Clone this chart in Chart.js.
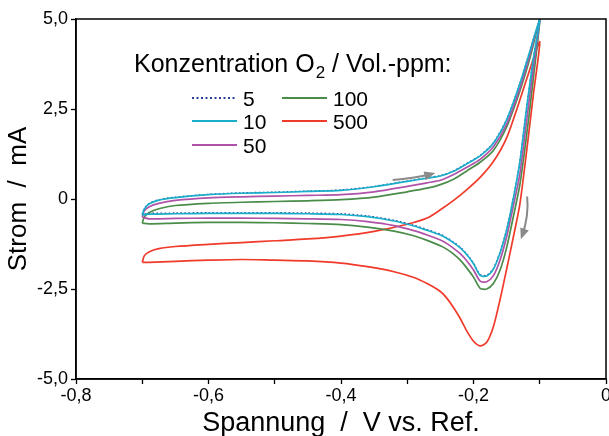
<!DOCTYPE html>
<html>
<head>
<meta charset="utf-8">
<script src="https://cdn.jsdelivr.net/npm/chart.js@4.4.1/dist/chart.umd.min.js"></script>
<style>
  html, body { margin: 0; padding: 0; background: #fff; }
  canvas { display: block; }
</style>
</head>
<body>
<canvas id="cv" width="609" height="436"></canvas>
<script>
// Spannung (V vs. Ref.): Hinlauf -0,7 -> -0,1, dann Rücklauf -0,1 -> -0,7
const spannung = [
  -0.700, -0.697, -0.690, -0.675, -0.650, -0.600, -0.550, -0.500, -0.450, -0.400, -0.350,
  -0.300, -0.270, -0.250, -0.230, -0.210, -0.190, -0.170, -0.150, -0.130, -0.115, -0.100,
  -0.110, -0.120, -0.130, -0.140, -0.150, -0.160, -0.170, -0.180, -0.190, -0.200,
  -0.210, -0.220, -0.230, -0.240, -0.250, -0.270, -0.290, -0.320, -0.360, -0.400,
  -0.450, -0.500, -0.550, -0.600, -0.650, -0.690, -0.700
];

// Strom (mA) je O2-Konzentration
const strom5 = [
  -0.43, -0.27, -0.13, -0.02, 0.05, 0.13, 0.17, 0.19, 0.22, 0.25, 0.35,
  0.50, 0.59, 0.65, 0.78, 0.99, 1.21, 1.56, 2.21, 3.21, 4.11, 5.00,
  3.86, 2.51, 1.05, 0.02, -0.85, -1.48, -1.93, -2.12, -2.10, -1.78,
  -1.53, -1.34, -1.20, -1.08, -0.98, -0.85, -0.73, -0.59, -0.47, -0.41,
  -0.39, -0.38, -0.38, -0.38, -0.39, -0.40, -0.43
];
const strom10 = [
  -0.44, -0.28, -0.14, -0.03, 0.04, 0.12, 0.16, 0.18, 0.21, 0.24, 0.34,
  0.49, 0.58, 0.64, 0.77, 0.98, 1.20, 1.55, 2.20, 3.20, 4.10, 5.00,
  3.85, 2.50, 1.03, 0.00, -0.87, -1.50, -1.95, -2.14, -2.12, -1.80,
  -1.55, -1.36, -1.22, -1.10, -1.00, -0.87, -0.75, -0.61, -0.49, -0.43,
  -0.41, -0.40, -0.40, -0.40, -0.41, -0.42, -0.44
];
const strom50 = [
  -0.50, -0.33, -0.22, -0.12, -0.04, 0.03, 0.06, 0.08, 0.10, 0.12, 0.20,
  0.35, 0.45, 0.52, 0.68, 0.88, 1.10, 1.45, 2.08, 3.08, 4.00, 5.00,
  3.60, 2.15, 0.70, -0.20, -1.05, -1.70, -2.13, -2.30, -2.28, -1.97,
  -1.72, -1.52, -1.37, -1.24, -1.14, -1.00, -0.88, -0.74, -0.63, -0.57,
  -0.55, -0.54, -0.53, -0.53, -0.54, -0.55, -0.50
];
const strom100 = [
  -0.67, -0.50, -0.38, -0.27, -0.18, -0.12, -0.09, -0.07, -0.05, -0.02, 0.05,
  0.20, 0.30, 0.40, 0.55, 0.78, 1.02, 1.35, 2.00, 3.00, 3.90, 5.00,
  3.30, 1.75, 0.40, -0.50, -1.35, -1.98, -2.35, -2.50, -2.48, -2.17,
  -1.92, -1.70, -1.53, -1.40, -1.30, -1.15, -1.02, -0.89, -0.78, -0.71,
  -0.68, -0.66, -0.65, -0.65, -0.67, -0.69, -0.67
];
const strom500 = [
  -1.76, -1.58, -1.47, -1.38, -1.32, -1.26, -1.21, -1.16, -1.11, -1.03, -0.90,
  -0.70, -0.53, -0.30, -0.04, 0.26, 0.60, 1.04, 1.70, 2.75, 3.60, 4.37,
  2.85, 1.30, -0.14, -1.07, -1.95, -2.80, -3.55, -3.98, -4.08, -3.95,
  -3.67, -3.32, -3.02, -2.76, -2.57, -2.35, -2.18, -2.02, -1.88, -1.78,
  -1.72, -1.70, -1.68, -1.70, -1.73, -1.76, -1.76
];

const konzentrationen = ['5', '10', '50', '100', '500'];
const farben = ['#2b3f9a', '#1aaecb', '#b052a8', '#4a8c4a', '#f03a2a'];

const xTicks = [-0.8, -0.7, -0.6, -0.5, -0.4, -0.3, -0.2, -0.1, 0];
const xTickLabels = ['-0,8', '', '-0,6', '', '-0,4', '', '-0,2', '', '0'];
const yTicks = [-5, -2.5, 0, 2.5, 5];
const yTickLabels = ['-5,0', '-2,5', '0', '2,5', '5,0'];

// Pfeile für die Scanrichtung (Start, Kontrollpunkt, Ende in Datenkoordinaten)
const pfeile = [
  [[-0.322, 0.53], [-0.292, 0.56], [-0.262, 0.70]],
  [[-0.119, 0.07], [-0.116, -0.47], [-0.127, -1.04]]
];

const FONT = 'Liberation Sans, Arial, Helvetica, sans-serif';

function punkte(strom) {
  return spannung.map((v, i) => ({ x: v, y: strom[i] }));
}

const alleStroeme = [strom5, strom10, strom50, strom100, strom500];
// Zeichenreihenfolge: 10 ganz oben, die gepunktete 5 knapp darunter
const reihenfolge = [1, 0, 2, 3, 4];
const datasets = alleStroeme.map((s, i) => ({
  label: konzentrationen[i],
  data: punkte(s),
  showLine: true,
  borderColor: farben[i],
  borderWidth: i === 0 ? 1.4 : 1.7,
  borderDash: i === 0 ? [1.6, 2.4] : [],
  pointRadius: 0,
  fill: false,
  tension: 0.25,
  order: reihenfolge[i]
}));

const rahmen = {
  id: 'rahmen',
  afterDraw(chart) {
    const { ctx, chartArea: a } = chart;
    ctx.save();
    ctx.strokeStyle = '#000';
    ctx.lineWidth = 1.5;
    ctx.strokeRect(a.left, a.top, a.right - a.left, a.bottom - a.top);
    ctx.restore();
  }
};

const richtungsPfeile = {
  id: 'richtungsPfeile',
  afterDatasetsDraw(chart) {
    const { ctx, scales: { x, y } } = chart;
    ctx.save();
    ctx.strokeStyle = '#8a8a8a';
    ctx.fillStyle = '#8a8a8a';
    ctx.lineWidth = 2;
    pfeile.forEach(p => {
      const [p0, p1, p2] = p.map(q => [x.getPixelForValue(q[0]), y.getPixelForValue(q[1])]);
      ctx.beginPath();
      ctx.moveTo(p0[0], p0[1]);
      ctx.quadraticCurveTo(p1[0], p1[1], p2[0], p2[1]);
      ctx.stroke();
      const ang = Math.atan2(p2[1] - p1[1], p2[0] - p1[0]);
      ctx.beginPath();
      ctx.moveTo(p2[0] + 3 * Math.cos(ang), p2[1] + 3 * Math.sin(ang));
      ctx.lineTo(p2[0] - 8 * Math.cos(ang) - 4.5 * Math.sin(ang), p2[1] - 8 * Math.sin(ang) + 4.5 * Math.cos(ang));
      ctx.lineTo(p2[0] - 8 * Math.cos(ang) + 4.5 * Math.sin(ang), p2[1] - 8 * Math.sin(ang) - 4.5 * Math.cos(ang));
      ctx.closePath();
      ctx.fill();
    });
    ctx.restore();
  }
};

const legende = {
  id: 'legende',
  afterDraw(chart) {
    const ctx = chart.ctx;
    ctx.save();
    ctx.fillStyle = '#000';
    ctx.textBaseline = 'alphabetic';
    ctx.font = '25px ' + FONT;
    let x = 134;
    const yb = 72;
    ctx.fillText('Konzentration O', x, yb);
    x += ctx.measureText('Konzentration O').width;
    ctx.font = '17px ' + FONT;
    ctx.fillText('2', x + 1, yb + 6);
    x += ctx.measureText('2').width + 1;
    ctx.font = '25px ' + FONT;
    ctx.fillText(' / Vol.-ppm:', x, yb);

    const spalten = [[0, 1, 2], [3, 4]];
    const lx = [192, 282];
    const rows = [98, 121, 145];
    ctx.font = '21px ' + FONT;
    spalten.forEach((sp, c) => {
      sp.forEach((idx, r) => {
        const ds = chart.data.datasets[idx];
        ctx.beginPath();
        ctx.setLineDash(idx === 0 ? [2, 2.5] : []);
        ctx.strokeStyle = ds.borderColor;
        ctx.lineWidth = 2;
        ctx.moveTo(lx[c], rows[r]);
        ctx.lineTo(lx[c] + 45, rows[r]);
        ctx.stroke();
        ctx.setLineDash([]);
        ctx.fillText(ds.label, lx[c] + 51, rows[r] + 7.5);
      });
    });
    ctx.restore();
  }
};

new Chart(document.getElementById('cv'), {
  type: 'scatter',
  data: { datasets: datasets },
  options: {
    responsive: false,
    animation: false,
    layout: { padding: { top: 19, right: 3, left: 0, bottom: 0 } },
    plugins: { legend: { display: false }, tooltip: { enabled: false } },
    scales: {
      x: {
        type: 'linear',
        min: -0.8,
        max: 0,
        afterBuildTicks: axis => { axis.ticks = xTicks.map(v => ({ value: v })); },
        afterFit: s => { s.height = 57; s.paddingLeft = 0; s.paddingRight = 0; },
        ticks: {
          autoSkip: false,
          maxRotation: 0,
          padding: 1,
          color: '#000',
          font: { family: FONT, size: 18 },
          callback: (v, i) => xTickLabels[i]
        },
        grid: { drawOnChartArea: false, tickLength: 5, tickColor: '#000', tickWidth: 1.3 },
        border: { color: '#000', width: 1.5 },
        title: {
          display: true,
          text: 'Spannung  /  V vs. Ref.',
          color: '#000',
          font: { family: FONT, size: 27, lineHeight: 1 },
          padding: { top: 0, bottom: -1 }
        }
      },
      y: {
        type: 'linear',
        min: -5,
        max: 5,
        afterBuildTicks: axis => { axis.ticks = yTicks.map(v => ({ value: v })); },
        afterFit: s => { s.width = 76; s.paddingTop = 0; s.paddingBottom = 0; },
        ticks: {
          padding: 3,
          color: '#000',
          font: { family: FONT, size: 18 },
          callback: (v, i) => yTickLabels[i]
        },
        grid: { drawOnChartArea: false, tickLength: 5, tickColor: '#000', tickWidth: 1.3 },
        border: { color: '#000', width: 1.5 },
        title: {
          display: true,
          text: 'Strom  /  mA',
          color: '#000',
          font: { family: FONT, size: 26, lineHeight: 1 },
          padding: { top: 6, bottom: 0 }
        }
      }
    }
  },
  plugins: [rahmen, richtungsPfeile, legende]
});
</script>
</body>
</html>
